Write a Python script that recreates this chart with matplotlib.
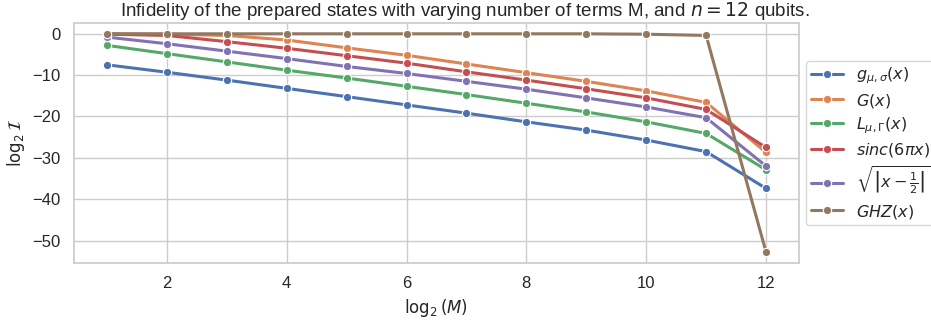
import numpy as np
import matplotlib
matplotlib.use("Agg")
import matplotlib.pyplot as plt
import seaborn as sns

sns.set_theme(style="whitegrid")
plt.rcParams["font.family"] = ["Liberation Sans", "DejaVu Sans"]

log2_M = [1, 2, 3, 4, 5, 6, 7, 8, 9, 10, 11, 12]

gauss = [-7.5, -9.3, -11.2, -13.2, -15.2, -17.2, -19.2, -21.3, -23.3, -25.7, -28.5, -37.4]
G = [0.0, -0.1, -0.4, -1.5, -3.4, -5.2, -7.3, -9.4, -11.5, -13.8, -16.6, -28.7]
lorentz = [-2.8, -4.8, -6.8, -8.8, -10.7, -12.7, -14.7, -16.8, -18.9, -21.3, -24.1, -32.9]
sinc = [-0.1, -0.4, -1.9, -3.5, -5.3, -7.1, -9.2, -11.2, -13.3, -15.5, -18.3, -27.5]
sqrt_abs = [-0.8, -2.4, -4.2, -6.0, -7.9, -9.6, -11.5, -13.4, -15.5, -17.7, -20.3, -32.0]
ghz = [0.0, 0.0, 0.0, 0.0, 0.0, 0.0, 0.0, 0.0, 0.0, -0.1, -0.4, -52.8]

labels = [r"$g_{\mu,\sigma}(x)$", r"$G(x)$", r"$L_{\mu,\Gamma}(x)$",
          r"$sinc(6\pi x)$", r"$\sqrt{\left|x-\frac{1}{2}\right|}$", r"$GHZ(x)$"]
series = [gauss, G, lorentz, sinc, sqrt_abs, ghz]

colors = sns.color_palette()

fig = plt.figure(figsize=(9.31, 3.21), dpi=100)
ax = fig.add_axes([0.0795, 0.1807, 0.7787, 0.748])

for vals, lab, c in zip(series, labels, colors):
    ax.plot(log2_M, vals, marker="o", color=c, label=lab, lw=2.2,
            markeredgecolor="white", markeredgewidth=0.8, markersize=6)

ax.set_xlabel(r"$\log_2(M)$", fontsize=12)
ax.set_ylabel(r"$\log_2\mathcal{I}$", fontsize=12)
# title sits centred on the whole figure, not on the axes
ax.set_title(r"Infidelity of the prepared states with varying number of terms M, and $n = 12$ qubits.",
             fontsize=13.5, pad=5, x=0.539)
ax.set_xticks([2, 4, 6, 8, 10, 12])
ax.tick_params(labelsize=12)
ax.legend(loc="center left", bbox_to_anchor=(1.01, 0.5), fontsize=11.5,
          labelspacing=0.35, borderpad=0.3, borderaxespad=0)

fig.savefig("out.png", dpi=100)
